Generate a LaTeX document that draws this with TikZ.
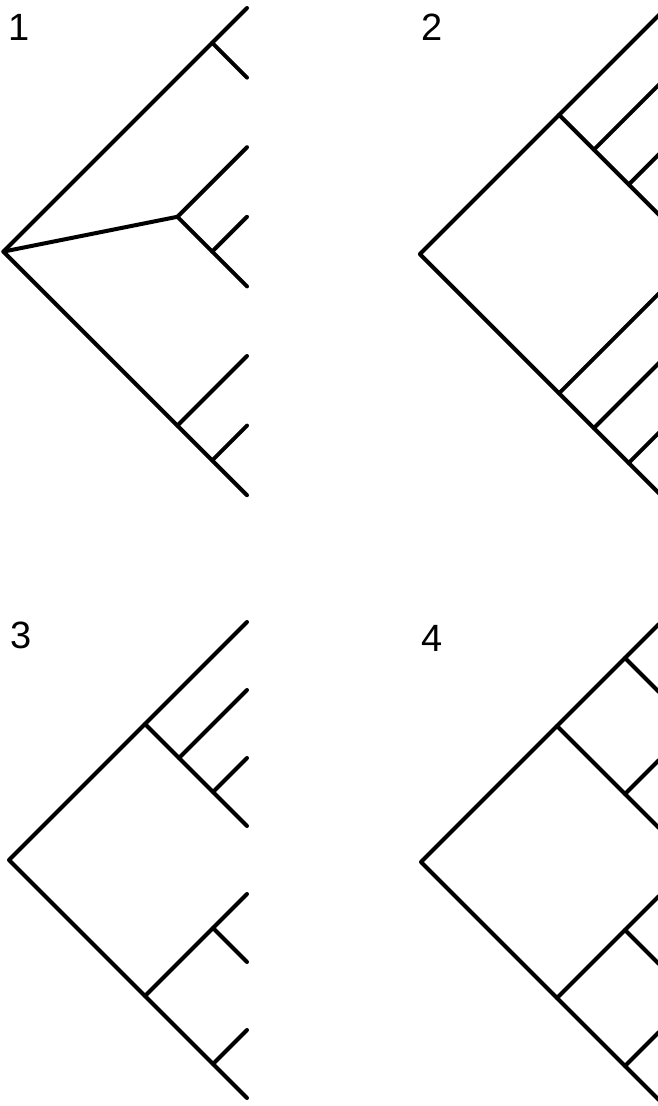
\documentclass[tikz,border=0pt]{standalone}
\usepackage{fontspec}
\setmainfont{Liberation Sans}
\usetikzlibrary{calc}

% clade point: between two tips, set back at 45 degrees
\newcommand{\clade}[3]{%
  \path let \p1=(#2), \p2=(#3) in ({\x1-abs(\y1-\y2)/2},{(\y1+\y2)/2}) coordinate (#1);}

\begin{document}
\begin{tikzpicture}[x=1pt, y=-1pt,
  branch/.style={line width=4pt, line cap=round, line join=round},
  numtag/.style={font=\fontsize{38}{40}\selectfont, inner sep=0pt}]
\useasboundingbox (0,0) rectangle (658,1106);
\clip (0,0) rectangle (658,1106);

% Tips
\foreach \k/\tx/\ty/\d in {1/247/8/69.6, 2/663.5/10.5/69.6, 3/247/622/68, 4/659/624/68}
  \foreach \t [count=\i from 0] in {a,...,h}
    \coordinate (\t\k) at (\tx,{\ty+\i*\d});

% Roots
\foreach \k in {1,...,4} {\clade{r\k}{a\k}{h\k}}

% Tree 1
\clade{ab1}{a1}{b1} \clade{ce1}{c1}{e1} \clade{de1}{d1}{e1}
\clade{fh1}{f1}{h1} \clade{gh1}{g1}{h1}
\draw[branch] (a1) -- (r1) -- (h1);
\draw[branch] (ab1) -- (b1);
\draw[branch] (r1) -- (ce1);
\draw[branch] (c1) -- (ce1) -- (e1);
\draw[branch] (de1) -- (d1);
\draw[branch] (fh1) -- (f1);
\draw[branch] (gh1) -- (g1);

% Tree 2
\clade{ad2}{a2}{d2} \clade{bd2}{b2}{d2} \clade{cd2}{c2}{d2}
\clade{eh2}{e2}{h2} \clade{fh2}{f2}{h2} \clade{gh2}{g2}{h2}
\draw[branch] (a2) -- (r2) -- (h2);
\draw[branch] (ad2) -- (d2);
\draw[branch] (bd2) -- (b2);
\draw[branch] (cd2) -- (c2);
\draw[branch] (eh2) -- (e2);
\draw[branch] (fh2) -- (f2);
\draw[branch] (gh2) -- (g2);

% Tree 3
\clade{ad3}{a3}{d3} \clade{bd3}{b3}{d3} \clade{cd3}{c3}{d3}
\clade{eh3}{e3}{h3} \clade{ef3}{e3}{f3} \clade{gh3}{g3}{h3}
\draw[branch] (a3) -- (r3) -- (h3);
\draw[branch] (ad3) -- (d3);
\draw[branch] (bd3) -- (b3);
\draw[branch] (cd3) -- (c3);
\draw[branch] (eh3) -- (e3);
\draw[branch] (ef3) -- (f3);
\draw[branch] (gh3) -- (g3);

% Tree 4
\clade{ab4}{a4}{b4} \clade{ad4}{a4}{d4} \clade{cd4}{c4}{d4}
\clade{eh4}{e4}{h4} \clade{ef4}{e4}{f4} \clade{gh4}{g4}{h4}
\draw[branch] (a4) -- (r4) -- (h4);
\draw[branch] (ab4) -- (b4);
\draw[branch] (ad4) -- (cd4) -- (d4);
\draw[branch] (cd4) -- (c4);
\draw[branch] (eh4) -- (ef4) -- (e4);
\draw[branch] (ef4) -- (f4);
\draw[branch] (gh4) -- (g4);

% Numbers
\node (num1) [numtag] at (19,27) {1};
\node (num2) [numtag] at (432.5,27) {2};
\node (num3) [numtag] at (21,635) {3};
\node (num4) [numtag] at (432.5,638) {4};
\end{tikzpicture}
\end{document}
